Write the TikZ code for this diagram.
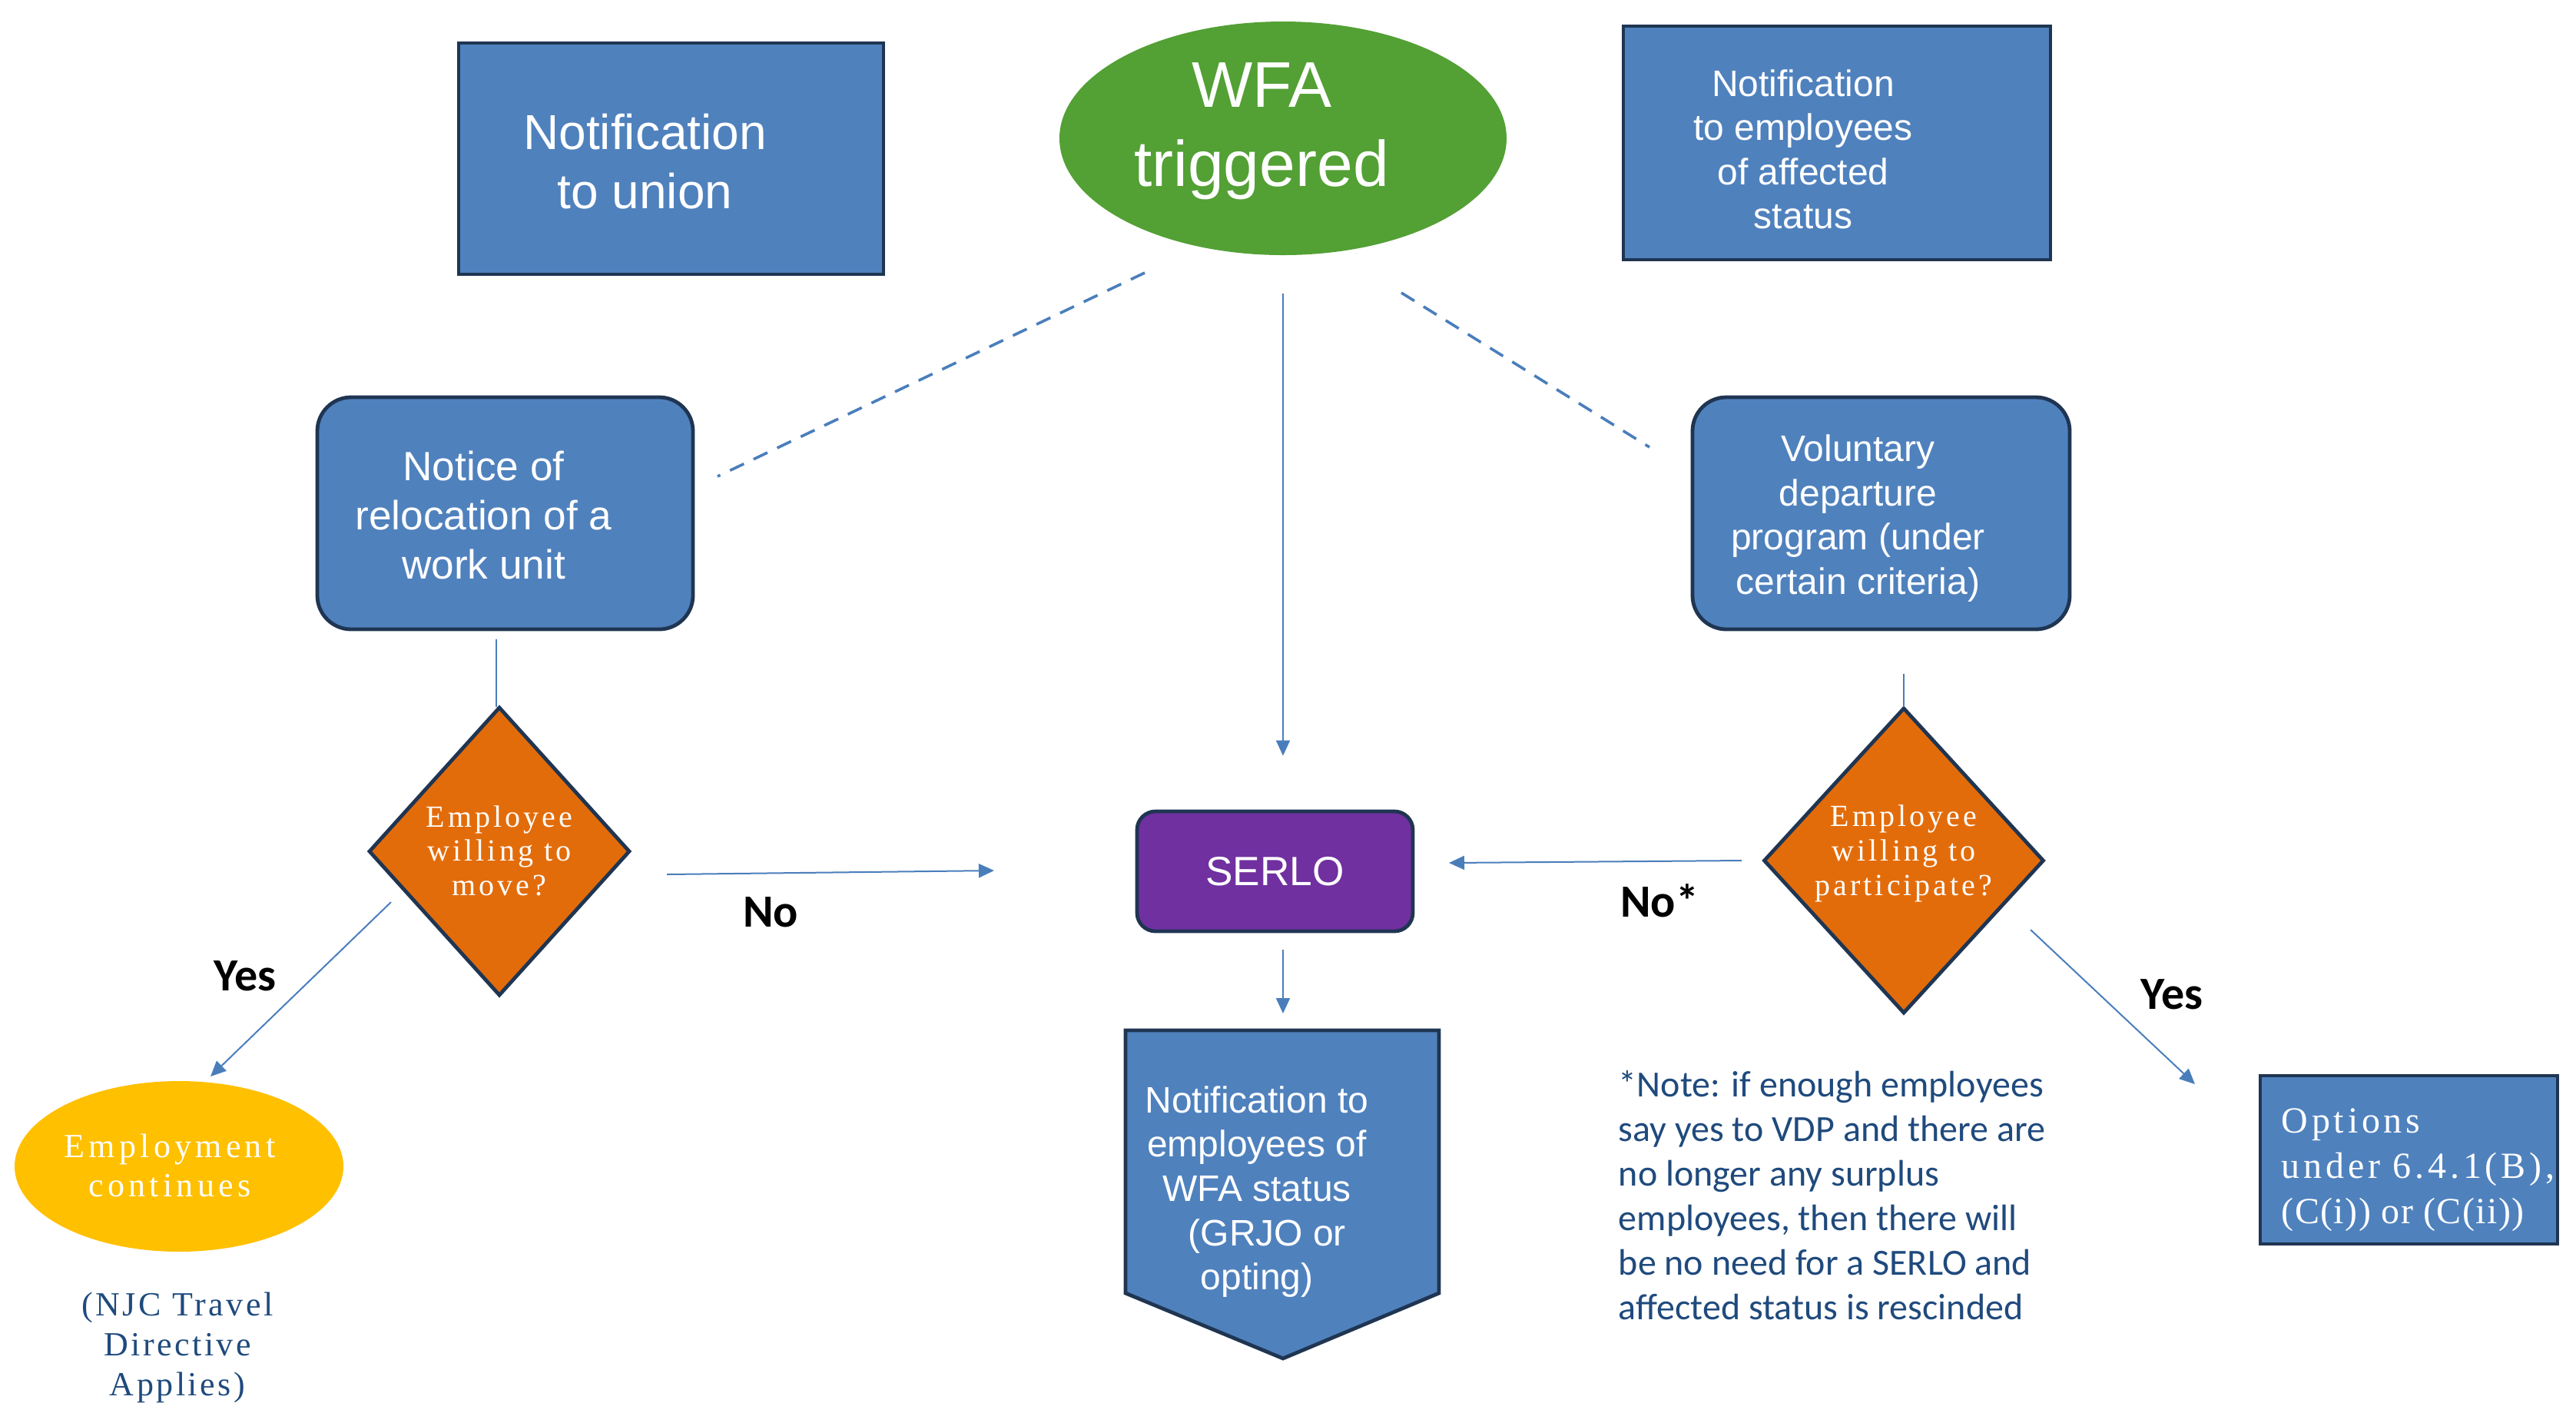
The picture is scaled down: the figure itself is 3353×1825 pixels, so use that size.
\documentclass[tikz,border=0pt]{standalone}
\usepackage{fontspec}
\setmainfont{Liberation Sans}
\newfontfamily\calib{Carlito}
\newfontfamily\dspace{Liberation Serif}[LetterSpace=10]
\newfontfamily\espace{Liberation Serif}[LetterSpace=12]
\newfontfamily\njcspace{Liberation Serif}[LetterSpace=8]
\newfontfamily\optA{Liberation Serif}[LetterSpace=10]
\newfontfamily\optC{Liberation Serif}[LetterSpace=3]
\usetikzlibrary{shapes.geometric,arrows.meta,calc}
\definecolor{boxblue}{HTML}{4F81BD}
\definecolor{edgeblue}{HTML}{1F3552}
\definecolor{wfagreen}{HTML}{53A035}
\definecolor{dorange}{HTML}{E36C0A}
\definecolor{spurple}{HTML}{7030A0}
\definecolor{yellowc}{HTML}{FFC000}
\definecolor{linkblue}{HTML}{4A7EBB}
\definecolor{notenavy}{HTML}{1F4A7D}
% #1 vertical shift, #2 extra right space (shifts text left by half), #3 lines
\newcommand\lft[3][0pt]{\raisebox{#1}[\height][\depth]{\begin{tabular}{@{}c@{}}#3\end{tabular}}\hspace*{#2}}
\tikzset{
  base/.style={inner sep=0pt, text=white},
  sqbox/.style={base, rectangle, draw=edgeblue, line width=1.2pt, fill=boxblue},
  rbox/.style={sqbox, rounded corners=11pt},
  serlobox/.style={base, rectangle, rounded corners=6pt, draw=edgeblue, line width=1.2pt, fill=spurple},
  decision/.style={base, diamond, draw=edgeblue, line width=1.2pt, fill=dorange,
    font={\dspace\fontsize{10}{11.2}\selectfont}},
  pentshape/.style={draw=edgeblue, line width=1.2pt, fill=boxblue},
  conn/.style={draw=linkblue, line width=0.5pt},
  arr/.style={conn, -{Triangle[length=5pt,width=4.5pt]}},
  dashconn/.style={draw=linkblue, line width=0.9pt, dash pattern=on 5pt off 3.5pt},
  answer/.style={inner sep=0pt, font={\calib\bfseries\fontsize{15}{18}\selectfont}},
}
\begin{document}
\begin{tikzpicture}[x=0.25pt,y=-0.25pt]
\fill[white] (0,0) rectangle (3353,1825);
\useasboundingbox (0,0) rectangle (3353,1825);

% top row
\node[sqbox, minimum width=138.25pt, minimum height=75.25pt,
      font=\fontsize{16}{19.25}\selectfont] (union) at (873.5,206.5)
      {\lft[-2.7pt]{17pt}{Notification\\to union}};
\node[base, ellipse, fill=wfagreen, minimum width=145.5pt, minimum height=76pt,
      font=\fontsize{21}{25.7}\selectfont] (wfa) at (1670,180)
      {\lft[2.4pt]{14pt}{WFA\\triggered}};
\node[sqbox, minimum width=139pt, minimum height=76pt,
      font=\fontsize{12}{14.3}\selectfont] (empaff) at (2391,186)
      {\lft[-3.5pt]{22pt}{Notification\\to employees\\of affected\\status}};

% second row
\node[rbox, minimum width=122.25pt, minimum height=75.5pt,
      font=\fontsize{13.3}{16}\selectfont] (notice) at (657.5,668)
      {\lft[-2.1pt]{14pt}{Notice of\\relocation of a\\work unit}};
\node[rbox, minimum width=122.75pt, minimum height=75.5pt,
      font=\fontsize{12}{14.4}\selectfont] (vol) at (2448.5,668)
      {\lft[-1.9pt]{15pt}{Voluntary\\departure\\program (under\\certain criteria)}};

% decisions
\node[decision, minimum width=85pt, minimum height=94pt] (dL) at (650,1108)
      {\lft[-1pt]{0pt}{Employee\\willing to\\move?}};
\node[decision, minimum width=90pt, minimum height=99.5pt] (dR) at (2478,1120)
      {\lft[2.1pt]{0pt}{Employee\\willing to\\participate?}};

% SERLO
\node[serlobox, minimum width=89.75pt, minimum height=39pt,
      font=\fontsize{13.3}{16}\selectfont] (serlo) at (1659.5,1134) {SERLO};

% pentagon
\path[pentshape] (1465,1341) -- (1873,1341) -- (1873,1683) -- (1670,1768) -- (1465,1683) -- cycle;
\coordinate (penttop) at (1670,1341);
\node[base, align=center, font=\fontsize{12}{14.4}\selectfont] (pent) at (1636,1551)
      {Notification to\\employees of\\WFA status\\\ \ (GRJO or\\opting)};

% employment continues
\node[base, ellipse, fill=yellowc, minimum width=107pt, minimum height=55.5pt,
      font={\espace\fontsize{11}{12.8}\selectfont}] (emp) at (233,1518)
      {\lft[-1pt]{6pt}{Employment\\continues}};
\node[inner sep=0pt, align=center, text=notenavy,
      font={\njcspace\fontsize{11}{13}\selectfont}] (njc) at (231,1754)
      {(NJC Travel\\Directive\\Applies)};

% options
\node[sqbox, minimum width=96.75pt, minimum height=54.75pt,
      font=\fontsize{12}{14.7}\selectfont] (opts) at (3135.5,1509.5)
      {\hspace*{6pt}\raisebox{-3pt}[\height][\depth]{\begin{tabular}{@{}l@{}}{\optA Options}\\{\optA under 6.4.1(B),}\\{\optC (C(i)) or (C(ii))}\end{tabular}}};

% note
\node[inner sep=0pt, anchor=west, align=left, text=notenavy,
      font={\calib\fontsize{12}{14.5}\selectfont}] (note) at (2106,1556)
      {*Note: if enough employees\\say yes to VDP and there are\\no longer any surplus\\employees, then there will\\be no need for a SERLO and\\affected status is rescinded};

% answer labels
\node[answer] (noL) at (1003,1187) {No};
\node[answer] (yesL) at (319,1270) {Yes};
\node[answer] (noR) at (2160,1172) {No*};
\node[answer] (yesR) at (2827,1294) {Yes};

% connector end points
\coordinate (dl1) at (1490,355);  \coordinate (dl2) at (934,620);
\coordinate (dr1) at (1824,381);  \coordinate (dr2) at (2147,582);
\coordinate (nl1) at (868,1138);  \coordinate (nl2) at (1294,1133);
\coordinate (nr1) at (2267,1120); \coordinate (nr2) at (1886,1123);
\coordinate (yl1) at (509,1174);  \coordinate (yl2) at (274,1401);
\coordinate (yr1) at (2643,1210); \coordinate (yr2) at (2857,1411);
\coordinate (nd1) at (646,832);   \coordinate (nd2) at (646,920);
\coordinate (vd1) at (2478,877);  \coordinate (vd2) at (2478,920);

% connectors
\draw[dashconn] (dl1) -- (dl2);
\draw[dashconn] (dr1) -- (dr2);
\draw[arr, shorten <=12.25pt, shorten >=17.5pt] (wfa.south) -- (wfa.south |- serlo.north);
\draw[conn] (nd1) -- (nd2);
\draw[conn] (vd1) -- (vd2);
\draw[arr] (nl1) -- (nl2);
\draw[arr] (nr1) -- (nr2);
\draw[arr, shorten <=5.5pt, shorten >=5.5pt] (serlo.south -| penttop) -- (penttop);
\draw[arr] (yl1) -- (yl2);
\draw[arr] (yr1) -- (yr2);
\end{tikzpicture}
\end{document}
